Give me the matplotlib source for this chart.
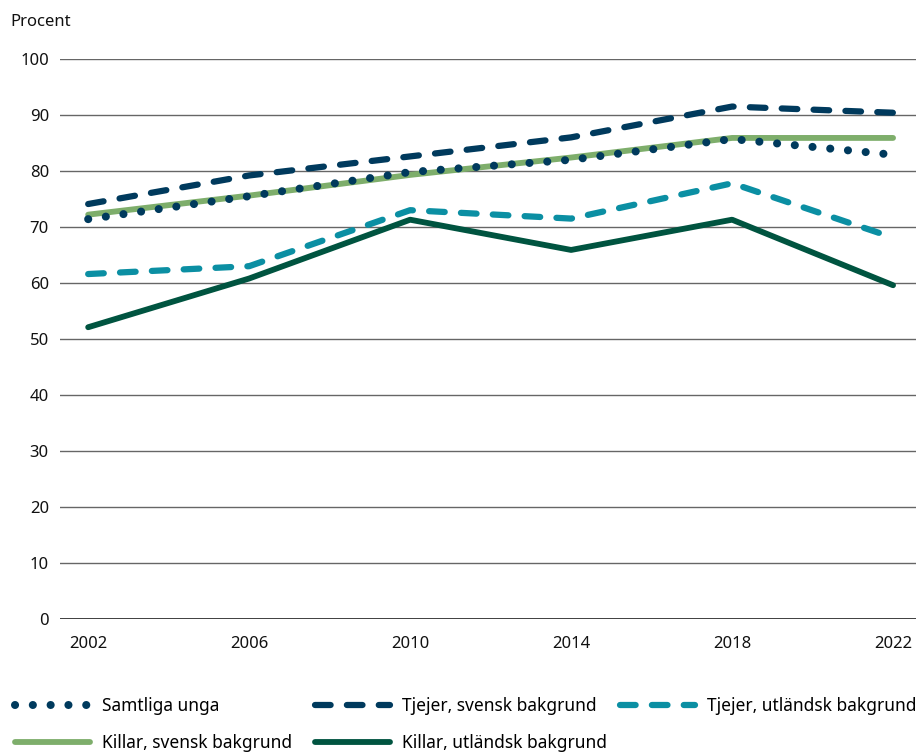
import matplotlib.pyplot as plt
from matplotlib.lines import Line2D

plt.rcParams['font.family'] = ['Noto Sans', 'DejaVu Sans']

years = [2002, 2006, 2010, 2014, 2018, 2022]
samtliga = [71.4, 75.5, 79.8, 82.0, 85.7, 82.9]
tjejer_svensk = [74.1, 79.2, 82.6, 86.0, 91.5, 90.4]
tjejer_utl = [61.6, 63.0, 73.0, 71.5, 77.8, 68.1]
killar_svensk = [72.2, 75.6, 79.3, 82.4, 85.9, 85.9]
killar_utl = [52.1, 60.8, 71.3, 65.9, 71.3, 59.6]

navy = '#003a5d'
teal = '#0b8fa3'
lgreen = '#7eae6b'
dgreen = '#005440'

dot_style = dict(color=navy, lw=5.8, dash_capstyle='round', linestyle=(0, (0.01, 2.2)))
dash_navy = dict(color=navy, lw=4.5, dash_capstyle='round', linestyle=(0, (2.5, 2.6)))
dash_teal = dict(color=teal, lw=4.5, dash_capstyle='round', linestyle=(0, (2.5, 2.6)))
solid_lg = dict(color=lgreen, lw=4.2, solid_capstyle='round')
solid_dg = dict(color=dgreen, lw=4.2, solid_capstyle='round')

fig = plt.figure(figsize=(9.16, 7.54), dpi=100)
ax = fig.add_axes([0.0655, 0.179, 0.9345, 0.7428])

ax.plot(years, killar_svensk, zorder=3, **solid_lg)
ax.plot(years, killar_utl, zorder=3, **solid_dg)
ax.plot(years, tjejer_utl, zorder=4, **dash_teal)
ax.plot(years, tjejer_svensk, zorder=4, **dash_navy)
ax.plot(years, samtliga, zorder=5, **dot_style)

ax.set_xlim(2001.3, 2022.57)
ax.set_ylim(0, 100)
ax.set_yticks(range(0, 101, 10))
ax.set_xticks(years)
ax.yaxis.grid(True, color='#666666', lw=1.0)
ax.set_axisbelow(True)
ax.axhline(0, color='#111111', lw=1.8, zorder=2)
for s in ax.spines.values():
    s.set_visible(False)
ax.tick_params(length=0, labelsize=12, colors='#111111')
ax.tick_params(axis='y', pad=8)
ax.tick_params(axis='x', pad=12)

fig.text(0.011, 0.965, 'Procent', fontsize=12, color='#111111')

# legend: three columns at fixed x positions
columns = [
    (15, [(dot_style, 'Samtliga unga'), (solid_lg, 'Killar, svensk bakgrund')]),
    (315, [(dash_navy, 'Tjejer, svensk bakgrund'), (solid_dg, 'Killar, utländsk bakgrund')]),
    (620, [(dash_teal, 'Tjejer, utländsk bakgrund')]),
]
for x0, entries in columns:
    hs = [Line2D([], [], **st) for st, _ in entries]
    ls = [lab for _, lab in entries]
    fig.legend(hs, ls, loc='upper left', bbox_to_anchor=(x0 / 916, 1 - 697 / 754),
               frameon=False, fontsize=12.5, handlelength=4.3, handletextpad=0.7,
               labelspacing=1.1, borderaxespad=0, borderpad=0)

fig.savefig('out.png', dpi=100)
